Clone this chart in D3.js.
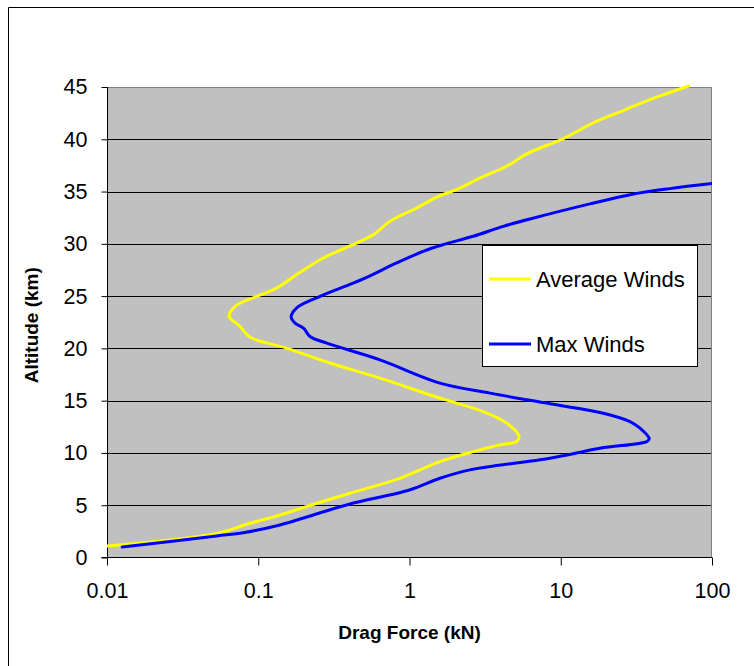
<!DOCTYPE html>
<html>
<head>
<meta charset="utf-8">
<script src="https://cdn.jsdelivr.net/npm/d3@7"></script>
<style>
  html, body { margin: 0; padding: 0; background: #fff; }
  svg { display: block; font-family: "Liberation Sans", Arial, sans-serif; }
</style>
</head>
<body>
<svg id="chart" width="754" height="666"></svg>
<script>
// Altitude (km) and drag force (kN) for the two wind profiles
const avgAlt  = [1.1, 2.3, 3.27, 4.07, 5.19, 6.15, 7.6, 9.17, 10.13, 10.77, 11.09, 11.6, 12.85, 13.96, 15.24, 17.16, 18.6, 20.03, 21.08, 22.1, 23.06, 24.0, 24.97, 25.77, 27.05, 28.48, 28.96, 30.24, 30.88, 32.15, 33.43, 34.61, 35.19, 36.3, 37.42, 38.6, 40.07, 41.73, 42.75, 44.03, 45.1];
const avgDrag = [0.01, 0.053, 0.088, 0.139, 0.244, 0.404, 0.87, 1.59, 2.64, 3.96, 5.11, 5.3, 4.39, 3.08, 1.59, 0.638, 0.298, 0.154, 0.088, 0.0758, 0.0644, 0.070, 0.0976, 0.132, 0.179, 0.256, 0.298, 0.471, 0.577, 0.743, 1.115, 1.59, 2.05, 2.93, 4.39, 5.96, 10.4, 17.3, 25.9, 43, 70];

const maxAlt  = [1.0, 2.06, 2.37, 3.11, 4.07, 5.12, 6.46, 7.58, 8.38, 9.5, 10.45, 11.09, 11.35, 12.37, 13.0, 13.8, 14.7, 15.72, 16.68, 18.9, 20.5, 21.14, 21.94, 22.42, 23.0, 23.86, 24.97, 26.09, 26.64, 28.17, 29.28, 29.92, 30.72, 31.67, 32.38, 33.82, 34.7, 35.28, 35.76];
const maxDrag = [0.0126, 0.053, 0.0796, 0.139, 0.231, 0.404, 1.0, 1.59, 2.51, 8.49, 18.2, 37, 38.5, 33.4, 28.7, 19.1, 8.49, 3.41, 1.59, 0.638, 0.284, 0.22, 0.199, 0.175, 0.165, 0.179, 0.256, 0.40, 0.495, 0.823, 1.23, 1.67, 2.64, 4.17, 6.27, 15.6, 28.7, 52.7, 100];

const seriesNames  = ["Average Winds", "Max Winds"];
const seriesColors = ["#FFFF00", "#0000FF"];

const xTicks = [0.01, 0.1, 1, 10, 100];
const xTickLabels = ["0.01", "0.1", "1", "10", "100"];
const yTicks = [0, 5, 10, 15, 20, 25, 30, 35, 40, 45];

const svg = d3.select("#chart");

// outer chart frame (top and left edges visible)
svg.append("path")
  .attr("d", "M8.5,666 V7.5 H754")
  .attr("fill", "none").attr("stroke", "#000").attr("stroke-width", 1);

const plot = { left: 107, right: 712, top: 87, bottom: 557.5 };

const x = d3.scaleLog().domain([0.01, 100]).range([plot.left, plot.right]);
const y = d3.scaleLinear().domain([0, 45]).range([plot.bottom, plot.top]);

// plot area background
svg.append("rect")
  .attr("x", plot.left).attr("y", plot.top)
  .attr("width", plot.right - plot.left).attr("height", plot.bottom - plot.top)
  .attr("fill", "#C0C0C0");

// horizontal gridlines
svg.append("g").selectAll("line")
  .data(yTicks.filter(d => d > 0 && d < 45))
  .join("line")
  .attr("x1", plot.left).attr("x2", plot.right)
  .attr("y1", d => Math.round(y(d)) + 0.5).attr("y2", d => Math.round(y(d)) + 0.5)
  .attr("stroke", "#000").attr("stroke-width", 1);

// plot border on top and right
svg.append("path")
  .attr("d", `M${plot.left},${plot.top + 0.5} H${plot.right - 0.5} V${plot.bottom}`)
  .attr("fill", "none").attr("stroke", "#808080").attr("stroke-width", 1);

// axes
const yAxis = d3.axisLeft(y).tickValues(yTicks).tickSize(6).tickPadding(14).tickFormat(d3.format("d"));
const gy = svg.append("g").attr("transform", `translate(${plot.left + 0.5},0)`).call(yAxis);
gy.selectAll("text").attr("font-size", 21.5).attr("fill", "#000").attr("font-family", "Liberation Sans, Arial, sans-serif");
gy.selectAll("line, path").attr("stroke", "#000");
gy.select(".domain").attr("d", `M-6,${plot.bottom}H0V${plot.top}`);

const xAxis = d3.axisBottom(x).tickValues(xTicks).tickSize(8).tickPadding(17)
  .tickFormat((d, i) => xTickLabels[i]);
const gx = svg.append("g").attr("transform", `translate(0,${plot.bottom})`).call(xAxis);
gx.selectAll("text").attr("font-size", 21.5).attr("fill", "#000").attr("font-family", "Liberation Sans, Arial, sans-serif");
gx.selectAll("line, path").attr("stroke", "#000");
gx.select(".domain").attr("d", `M${plot.left},0H${plot.right}`);

// axis titles
svg.append("text")
  .attr("x", (plot.left + plot.right) / 2).attr("y", 639)
  .attr("text-anchor", "middle").attr("font-weight", "bold").attr("font-size", 19)
  .text("Drag Force (kN)");

svg.append("text")
  .attr("transform", `translate(38,${(plot.top + plot.bottom) / 2 + 3}) rotate(-90)`)
  .attr("text-anchor", "middle").attr("font-weight", "bold").attr("font-size", 19)
  .text("Altitude (km)");

// series lines
const series = [
  { name: seriesNames[0], color: seriesColors[0], pts: avgAlt.map((a, i) => [avgDrag[i], a]) },
  { name: seriesNames[1], color: seriesColors[1], pts: maxAlt.map((a, i) => [maxDrag[i], a]) }
];

svg.append("clipPath").attr("id", "plotClip")
  .append("rect").attr("x", plot.left).attr("y", plot.top - 3)
  .attr("width", plot.right - plot.left).attr("height", plot.bottom - plot.top + 3);

const line = d3.line()
  .x(d => x(d[0])).y(d => y(d[1]))
  .curve(d3.curveCatmullRom.alpha(0.5));

svg.append("g").attr("clip-path", "url(#plotClip)")
  .selectAll("path")
  .data(series)
  .join("path")
  .attr("d", d => line(d.pts))
  .attr("fill", "none")
  .attr("stroke", d => d.color)
  .attr("stroke-width", 3)
  .attr("stroke-linejoin", "round")
  .attr("stroke-linecap", "round");

// legend
const legend = svg.append("g");
legend.append("rect")
  .attr("x", 482.5).attr("y", 245.5).attr("width", 215).attr("height", 121)
  .attr("fill", "#fff").attr("stroke", "#000").attr("stroke-width", 1);

const legendY = [279, 344];
series.forEach((s, i) => {
  legend.append("line")
    .attr("x1", 489).attr("x2", 531)
    .attr("y1", legendY[i]).attr("y2", legendY[i])
    .attr("stroke", s.color).attr("stroke-width", 3);
  legend.append("text")
    .attr("x", 536).attr("y", legendY[i] + 8)
    .attr("font-size", 22).attr("fill", "#000")
    .text(s.name);
});
</script>
</body>
</html>
